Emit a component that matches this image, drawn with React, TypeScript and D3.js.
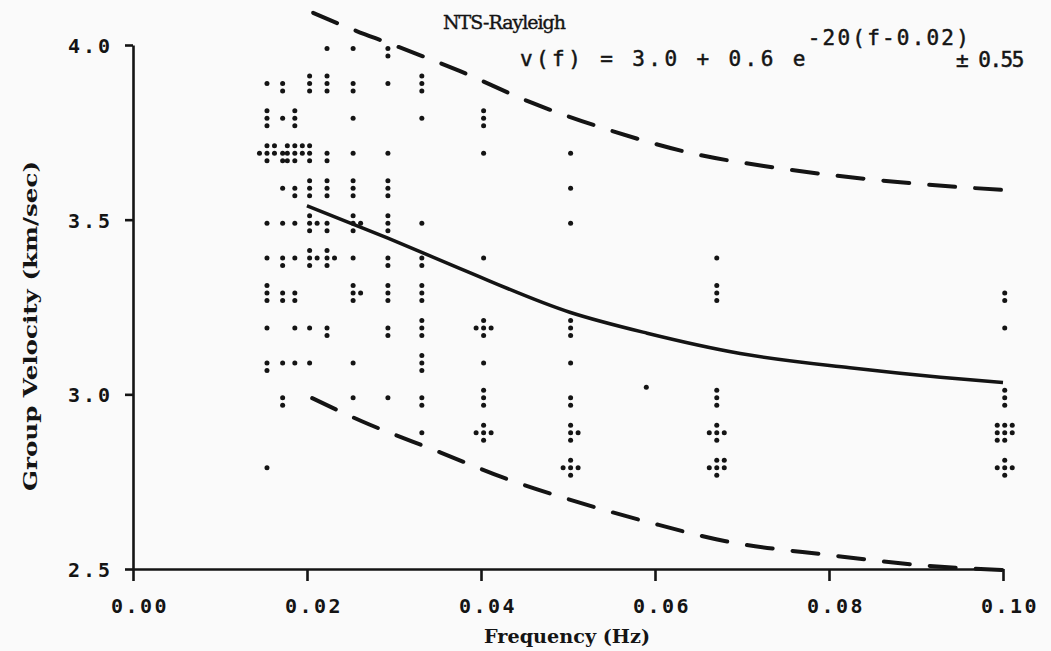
import React, { useRef, useEffect } from "react";
import * as d3 from "d3";

// frequencies (Hz) of the measurement columns
const colFreqs = [0.0154, 0.0172, 0.0186, 0.0203, 0.0223, 0.0253, 0.0293, 0.0332, 0.0403, 0.0503, 0.0671, 0.1002];

// [group velocity km/s, number of observations] per column
const obsA = [[3.89, 1], [3.79, 3], [3.69, 6], [3.49, 1], [3.39, 1], [3.29, 3], [3.19, 1], [3.09, 2], [2.79, 1]];
const obsB = [[3.89, 2], [3.79, 1], [3.69, 2], [3.59, 1], [3.49, 1], [3.39, 2], [3.29, 2], [3.09, 1], [2.99, 2]];
const obsB2 = [[3.79, 3], [3.69, 8], [3.59, 2], [3.49, 1], [3.39, 1], [3.29, 2], [3.19, 1], [3.09, 1]];
const obsC = [[3.89, 3], [3.69, 3], [3.59, 3], [3.49, 4], [3.39, 4], [3.19, 1], [3.09, 1]];
const obsD = [[3.99, 1], [3.89, 3], [3.69, 2], [3.59, 3], [3.49, 2], [3.39, 4], [3.19, 2]];
const obsE = [[3.99, 1], [3.89, 2], [3.79, 1], [3.69, 1], [3.59, 3], [3.49, 4], [3.39, 1], [3.29, 4], [3.09, 1], [2.99, 1]];
const obsF = [[3.99, 2], [3.89, 1], [3.69, 1], [3.59, 3], [3.49, 3], [3.39, 2], [3.29, 3], [3.19, 2], [2.99, 1]];
const obsG = [[3.89, 3], [3.79, 1], [3.49, 1], [3.39, 2], [3.29, 3], [3.19, 3], [3.09, 3], [2.99, 2], [2.89, 1]];
const obsH = [[3.79, 3], [3.69, 1], [3.39, 1], [3.19, 5], [3.09, 1], [2.99, 3], [2.89, 5]];
const obsI = [[3.69, 1], [3.59, 1], [3.49, 1], [3.19, 3], [3.09, 1], [2.99, 2], [2.89, 4], [2.79, 5]];
const obsJ = [[3.39, 1], [3.29, 3], [2.99, 3], [2.89, 5], [2.79, 6]];
const obsK = [[3.29, 2], [3.19, 1], [2.99, 3], [2.89, 8], [2.79, 5]];
const columns = [obsA, obsB, obsB2, obsC, obsD, obsE, obsF, obsG, obsH, obsI, obsJ, obsK];

// stray single measurement
const extraFreq = [0.059];
const extraVel = [3.02];

// fitted curve and the +/- 0.55 bounds
const fitFreq = [0.02, 0.0293, 0.0376, 0.0502, 0.0591, 0.0698, 0.0824, 0.0928, 0.1];
const fitVel = [3.54, 3.447, 3.36, 3.235, 3.175, 3.117, 3.076, 3.049, 3.034];
const upperFreq = [0.0207, 0.0257, 0.0293, 0.0376, 0.0456, 0.0548, 0.0646, 0.0735, 0.0882, 0.1];
const upperVel = [4.092, 4.04, 4.006, 3.925, 3.837, 3.756, 3.688, 3.65, 3.607, 3.585];
const lowerFreq = [0.0206, 0.0263, 0.0353, 0.0425, 0.05, 0.0594, 0.068, 0.08, 0.091, 0.1];
const lowerVel = [2.989, 2.923, 2.834, 2.762, 2.7, 2.633, 2.58, 2.54, 2.51, 2.497];

const xTicks = [0, 0.02, 0.04, 0.06, 0.08, 0.1];
const xTickLabels = ["0.00", "0.02", "0.04", "0.06", "0.08", "0.10"];
const yTicks = [2.5, 3.0, 3.5, 4.0];
const yTickLabels = ["2.5", "3.0", "3.5", "4.0"];

// layout of stacked dots when several observations share a value
const clusterOffsets: Record<number, number[][]> = {
  1: [[0, 0]],
  2: [[0, 0], [0, 1]],
  3: [[0, -1], [0, 0], [0, 1]],
  4: [[0, -1], [0, 0], [0, 1], [1, 0]],
  5: [[0, -1], [-1, 0], [0, 0], [1, 0], [0, 1]],
  6: [[0, -1], [1, -1], [-1, 0], [0, 0], [1, 0], [0, 1]],
  8: [[-1, -1], [0, -1], [1, -1], [-1, 0], [0, 0], [1, 0], [-1, 1], [0, 1]],
};

const INK = "#141414";

const App = () => {
  const svgRef = useRef<SVGSVGElement>(null);

  useEffect(() => {
    const svg = d3.select(svgRef.current);
    svg.selectAll("*").remove();

    const x = d3.scaleLinear().domain([0, 0.1]).range([133, 1003]);
    const y = d3.scaleLinear().domain([2.5, 4.0]).range([569, 45]);

    svg.append("rect").attr("width", 1051).attr("height", 651).attr("fill", "#fafafa");

    // axes
    const gx = svg
      .append("g")
      .attr("transform", `translate(0, ${y(2.5)})`)
      .call(d3.axisBottom(x).tickValues(xTicks).tickSize(12).tickSizeOuter(0).tickFormat(() => ""));
    gx.selectAll("path, line").attr("stroke", INK).attr("stroke-width", 2.6);

    const gy = svg
      .append("g")
      .attr("transform", `translate(${x(0)}, 0)`)
      .call(d3.axisLeft(y).tickValues(yTicks).tickSize(8).tickSizeOuter(0).tickFormat(() => ""));
    gy.selectAll("path, line").attr("stroke", INK).attr("stroke-width", 2.6);

    svg
      .selectAll(".xlab")
      .data(xTicks)
      .enter()
      .append("text")
      .attr("x", (d) => x(d) + 7)
      .attr("y", 613)
      .attr("text-anchor", "middle")
      .style("font-family", "DejaVu Sans Mono")
      .style("font-weight", "bold")
      .style("font-size", "20px")
      .style("letter-spacing", "2.5px")
      .attr("fill", INK)
      .text((d, i) => xTickLabels[i]);

    svg
      .selectAll(".ylab")
      .data(yTicks)
      .enter()
      .append("text")
      .attr("x", 113)
      .attr("y", (d) => y(d) + 8)
      .attr("text-anchor", "end")
      .style("font-family", "DejaVu Sans Mono")
      .style("font-weight", "bold")
      .style("font-size", "20px")
      .style("letter-spacing", "3px")
      .attr("fill", INK)
      .text((d, i) => yTickLabels[i]);

    // axis titles
    svg
      .append("text")
      .attr("x", 567)
      .attr("y", 643)
      .attr("text-anchor", "middle")
      .attr("textLength", 166)
      .attr("lengthAdjust", "spacingAndGlyphs")
      .style("font-family", "DejaVu Serif")
      .style("font-weight", "bold")
      .style("font-size", "19px")
      .attr("fill", INK)
      .text("Frequency (Hz)");

    svg
      .append("text")
      .attr("transform", "translate(37, 326) rotate(-90)")
      .attr("text-anchor", "middle")
      .attr("textLength", 330)
      .attr("lengthAdjust", "spacingAndGlyphs")
      .style("font-family", "DejaVu Serif")
      .style("font-weight", "bold")
      .style("font-size", "19px")
      .attr("fill", INK)
      .text("Group Velocity (km/sec)");

    // title and formula
    svg
      .append("text")
      .attr("x", 443)
      .attr("y", 29)
      .attr("textLength", 123)
      .style("font-family", "DejaVu Serif")
      .style("font-size", "19px")
      .attr("fill", INK)
      .attr("stroke", INK)
      .attr("stroke-width", 0.4)
      .text("NTS-Rayleigh");

    const formula = svg
      .append("text")
      .attr("x", 520)
      .attr("y", 66)
      .style("font-family", "DejaVu Sans Mono")
      .style("font-size", "21px")
      .attr("fill", INK)
      .attr("stroke", INK)
      .attr("stroke-width", 0.5);
    formula.append("tspan").style("letter-spacing", "3.4px").text("v(f) = 3.0 + 0.6 e");
    formula.append("tspan").attr("dy", -21).attr("dx", -1).style("letter-spacing", "2.2px").text("-20(f-0.02)");

    svg
      .append("text")
      .attr("x", 956)
      .attr("y", 67)
      .style("font-family", "DejaVu Sans Mono")
      .style("font-size", "21px")
      .style("letter-spacing", "-1.5px")
      .attr("fill", INK)
      .attr("stroke", INK)
      .attr("stroke-width", 0.5)
      .text("± 0.55");

    // curves
    const line = d3
      .line<[number, number]>()
      .x((d) => x(d[0]))
      .y((d) => y(d[1]))
      .curve(d3.curveMonotoneX);

    const fit = fitFreq.map((f, i) => [f, fitVel[i]] as [number, number]);
    const upper = upperFreq.map((f, i) => [f, upperVel[i]] as [number, number]);
    const lower = lowerFreq.map((f, i) => [f, lowerVel[i]] as [number, number]);

    svg.append("path").attr("d", line(fit)).attr("fill", "none").attr("stroke", INK).attr("stroke-width", 3.5);

    [upper, lower].forEach((pts) => {
      svg
        .append("path")
        .attr("d", line(pts))
        .attr("fill", "none")
        .attr("stroke", INK)
        .attr("stroke-width", 4)
        .attr("stroke-linecap", "round")
        .attr("stroke-dasharray", "26 20");
    });

    // observation dots
    const step = 7.5;
    const dots: { cx: number; cy: number }[] = [];
    columns.forEach((col, ci) => {
      col.forEach(([v, n]) => {
        const offs = clusterOffsets[n] || clusterOffsets[8];
        offs.forEach(([dx, dy]) => {
          dots.push({ cx: x(colFreqs[ci]) + dx * step, cy: y(v) + dy * step });
        });
      });
    });
    extraFreq.forEach((f, i) => dots.push({ cx: x(f), cy: y(extraVel[i]) }));

    svg
      .append("g")
      .selectAll("circle")
      .data(dots)
      .enter()
      .append("circle")
      .attr("cx", (d) => d.cx)
      .attr("cy", (d) => d.cy)
      .attr("r", 2.5)
      .attr("fill", INK);
  }, []);

  return (
    <svg
      ref={svgRef}
      width={1051}
      height={651}
      style={{ position: "absolute", left: 0, top: 0 }}
    ></svg>
  );
};

export default App;
